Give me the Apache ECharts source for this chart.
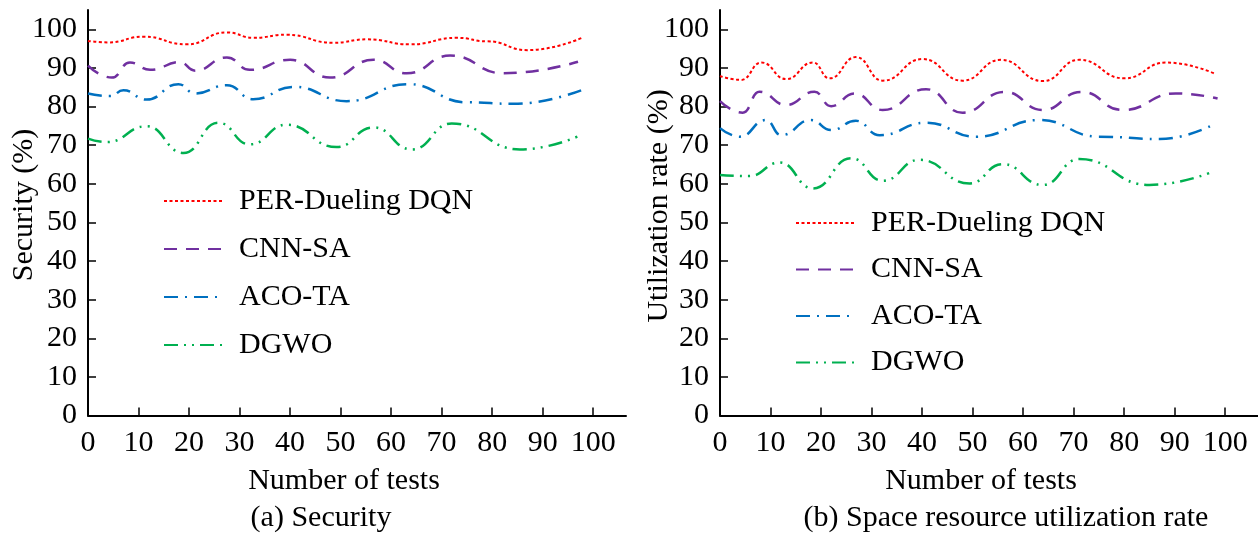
<!DOCTYPE html>
<html>
<head>
<meta charset="utf-8">
<script src="https://cdn.jsdelivr.net/npm/echarts@6/dist/echarts.min.js"></script>
<style>
  html, body { margin: 0; padding: 0; background: #fff; }
  #chart { width: 1258px; height: 533px; }
</style>
</head>
<body>
<div id="chart"></div>
<script>
// series names
const names = ['PER-Dueling DQN', 'CNN-SA', 'ACO-TA', 'DGWO']

// tick labels (both axes)
const ticks = [0, 10, 20, 30, 40, 50, 60, 70, 80, 90, 100]

// (a) Security — [number of tests, %]
const secPER = [[0, 97], [4, 96.6], [11, 98.1], [19.5, 96.1], [27.5, 99.2], [32.7, 97.8], [39.3, 98.6], [48.6, 96.5], [55.2, 97.4], [63.8, 96.1], [73, 97.8], [79, 96.9], [87, 94.6], [98, 97.9]]
const secCNN = [[0, 90.6], [4.7, 87.5], [8.3, 91.4], [12.3, 89.5], [18.2, 91.5], [21.2, 89.3], [27.5, 92.7], [32, 89.5], [40, 92.1], [47.9, 87.5], [56.5, 92.1], [63.1, 88.6], [71.7, 93.2], [82.2, 88.6], [97, 91.6]]
const secACO = [[0, 83.4], [4.4, 82.7], [7, 84.2], [11.6, 81.8], [17.9, 85.8], [21.2, 83.4], [27.5, 85.5], [32.7, 81.9], [40.7, 85.1], [51.2, 81.4], [63.4, 85.8], [75, 81.1], [84.2, 80.7], [98, 84.4]]
const secDGWO = [[0, 71.7], [3.7, 70.8], [11.6, 74.9], [18.9, 68], [25.8, 75.8], [32, 70.2], [39.3, 75.3], [49.2, 69.5], [56.5, 74.6], [64.1, 68.9], [72, 75.6], [85.5, 68.9], [97.4, 72.5]]

// (b) Space resource utilization rate — [number of tests, %]
const utiPER = [[0, 87.9], [4.2, 86.9], [8.2, 91.4], [13.1, 87.1], [18.4, 91.4], [21.7, 87.3], [26.9, 92.8], [32.2, 86.7], [40.1, 92.3], [48, 86.7], [55.6, 92.1], [63.9, 86.6], [71.1, 92.1], [80, 87.3], [88.3, 91.4], [97.8, 88.6]]
const utiCNN = [[0, 81.4], [4.5, 78.4], [7.8, 83.8], [13.1, 80.4], [18.7, 83.8], [22, 80.1], [26.6, 83.4], [32.2, 79.1], [40.8, 84.5], [48, 78.4], [56.3, 83.8], [63.9, 79.1], [71.5, 83.8], [79.7, 79.1], [90.2, 83.4], [98.5, 82.1]]
const utiACO = [[0, 74.4], [3.9, 72.2], [9.1, 76.5], [12.1, 72.6], [18, 76.5], [22, 73.9], [26.9, 76.3], [31.6, 72.6], [40.8, 75.8], [50.7, 72.2], [63.2, 76.5], [75, 72.2], [87, 71.6], [97.2, 75]]
const utiDGWO = [[0, 62.3], [5.8, 62], [11.8, 65.5], [18.4, 58.8], [26, 66.6], [32.2, 60.8], [39.5, 66.2], [49.4, 60.1], [55.9, 65.1], [63.9, 59.7], [71.1, 66.4], [85, 59.7], [97.5, 63.1]]

const styles = [
  { color: '#ff0000', width: 2, type: [3, 2.5] },
  { color: '#7030a0', width: 2.5, type: [13, 9] },
  { color: '#0070c0', width: 2.5, type: [14, 7, 2, 7] },
  { color: '#00b050', width: 2.5, type: [14, 6, 2, 6, 2, 6] }
]

const font = 'Liberation Serif'
const chart = echarts.init(document.getElementById('chart'))

const makeX = (idx) => ({
  type: 'value', gridIndex: idx, min: 0, max: 106.5,
  axisLine: { lineStyle: { color: '#000', width: 2 } },
  axisTick: { inside: true, length: 8, customValues: ticks, lineStyle: { color: '#000', width: 1.5 } },
  axisLabel: { customValues: ticks, color: '#000', fontFamily: font, fontSize: 30, margin: 13 },
  splitLine: { show: false }
})
const makeY = (idx) => ({
  type: 'value', gridIndex: idx, min: 0, max: 105,
  axisLine: { show: true, lineStyle: { color: '#000', width: 2 } },
  axisTick: { show: true, inside: true, length: 8, customValues: ticks, lineStyle: { color: '#000', width: 1.5 } },
  axisLabel: { customValues: ticks, color: '#000', fontFamily: font, fontSize: 30, margin: 11 },
  splitLine: { show: false }
})

const makeSeries = (data, i, idx) => ({
  name: names[i],
  type: 'line',
  xAxisIndex: idx,
  yAxisIndex: idx,
  data: data,
  symbol: 'none',
  smooth: 0.5,
  smoothMonotone: 'x',
  itemStyle: { color: styles[i].color },
  lineStyle: styles[i]
})

const legendBase = {
  data: names,
  orient: 'vertical',
  itemWidth: 60,
  itemHeight: 14,
  itemStyle: { opacity: 0 },
  textStyle: { color: '#000', fontFamily: font, fontSize: 30, lineHeight: 30, padding: [0, 0, 0, 10] }
}

const textEl = (x, y, text, rot) => ({
  type: 'text', x: x, y: y, rotation: rot || 0,
  style: { text: text, fill: '#000', font: '30px "Liberation Serif"', align: 'center', verticalAlign: 'middle' }
})

const option = {
  animation: false,
  grid: [
    { left: 88, top: 10, width: 538, bottom: 117.5 },
    { left: 720, top: 10, width: 538, bottom: 117.5 }
  ],
  xAxis: [makeX(0), makeX(1)],
  yAxis: [makeY(0), makeY(1)],
  legend: [
    Object.assign({}, legendBase, { left: 158, top: 181, itemGap: 18 }),
    Object.assign({}, legendBase, { left: 790, top: 203, itemGap: 16.5 })
  ],
  graphic: [
    textEl(344, 481, 'Number of tests'),
    textEl(981, 481, 'Number of tests'),
    textEl(321, 518, '(a) Security'),
    textEl(1006, 518, '(b) Space resource utilization rate'),
    textEl(24, 205, 'Security (%)', Math.PI / 2),
    textEl(659, 206, 'Utilization rate (%)', Math.PI / 2)
  ],
  series: [
    makeSeries(secPER, 0, 0),
    makeSeries(secCNN, 1, 0),
    makeSeries(secACO, 2, 0),
    makeSeries(secDGWO, 3, 0),
    makeSeries(utiPER, 0, 1),
    makeSeries(utiCNN, 1, 1),
    makeSeries(utiACO, 2, 1),
    makeSeries(utiDGWO, 3, 1)
  ]
}

chart.setOption(option)
</script>
</body>
</html>
